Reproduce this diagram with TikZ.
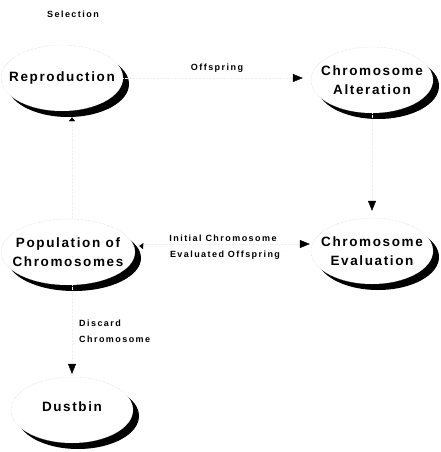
\documentclass[tikz,border=0pt]{standalone}
\usepackage{fontspec}
\setmainfont{Liberation Sans}
\newfontfamily\stagefont[LetterSpace=12]{Liberation Sans}
\newfontfamily\linkfont[LetterSpace=16]{Liberation Sans}
\usetikzlibrary{shapes.geometric,shadows,arrows.meta}
\tikzset{
  stage/.style={ellipse, minimum width=122pt, minimum height=66pt, inner sep=0pt,
    draw=black!20, densely dotted, fill=white,
    drop shadow={shadow xshift=6pt, shadow yshift=-6pt, fill=black, opacity=1, draw=none}},
  stagetext/.style={align=center, inner sep=0pt,
    font=\stagefont\bfseries\fontsize{13.5}{16}\selectfont},
  lbl/.style={inner sep=1pt, text=black, font=\linkfont\bfseries\fontsize{9}{16}\selectfont},
  link/.style={draw=black!6, densely dotted,
    -{Triangle[length=10pt, width=8pt, color=black, fill=black]}},
  stub/.style={draw=black!6, densely dotted,
    -{Triangle[length=4pt, width=6pt, color=black, fill=black]}}
}
\begin{document}
\begin{tikzpicture}[x=1pt,y=-1pt]
    \useasboundingbox (0,0) rectangle (440,452);
    \node[stage, label={[stagetext]center:Reproduction}] (rep) at (62,78) {};
    \node[stage, label={[stagetext]center:Chromosome\\[3pt]Alteration}] (alt) at (372,80) {};
    \node[stage, minimum width=134pt, label={[stagetext]center:Population of\\[3pt]Chromosomes}] (pop) at (68,252) {};
    \node[stage, label={[stagetext]center:Chromosome\\[3pt]Evaluation}] (eval) at (372,251) {};
    \node[stage, label={[stagetext, yshift=3pt]center:Dustbin}] (bin) at (72,410) {};
    \node[lbl] (sel) at (73,14) {Selection};
    \draw[link, shorten >=8pt] (rep.east) -- node[lbl, above=4pt] {Offspring} (rep.east -| alt.west);
    \draw[link, shorten >=7pt] (alt) -- (eval);
    \draw[link, shorten >=1pt] ([yshift=8pt]pop.east) -- node[lbl, above=1pt] {Initial Chromosome} ([yshift=8pt]pop.east -| eval.west);
    \draw[stub] (eval.west) -- node[lbl, below=1pt] {Evaluated Offspring} ([yshift=6pt,xshift=4pt]pop.east);
    \draw[link, shorten >=3pt] (pop.south -| bin.north) -- node[lbl, right=6pt, align=left] {Discard\\Chromosome} (bin.north);
    \draw[stub] ([xshift=10pt]pop.north -| rep.south) -- ([xshift=10pt,yshift=-6pt]rep.south);
\end{tikzpicture}
\end{document}
